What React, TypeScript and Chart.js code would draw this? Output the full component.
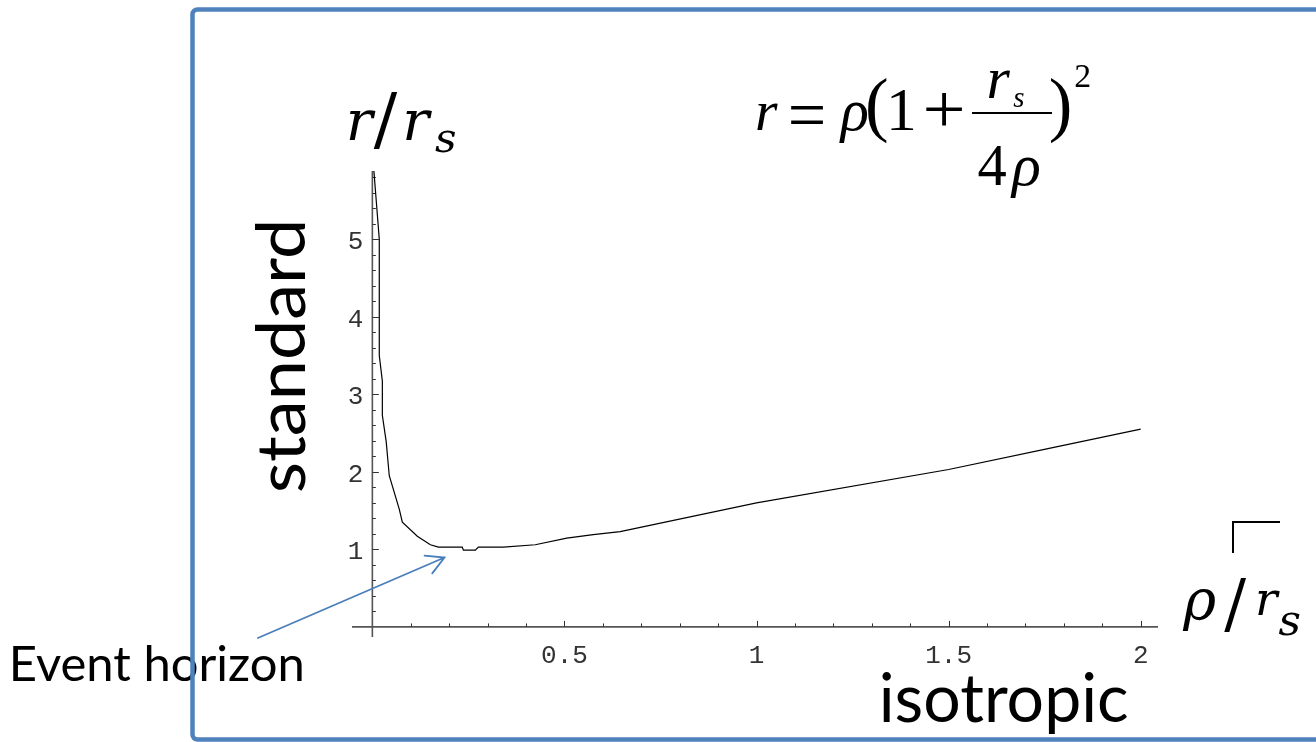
import React, { useEffect, useRef } from "react";
import { Chart, registerables } from "chart.js";

Chart.register(...registerables);

// isotropic radius rho / r_s (x) and standard radius r / r_s (y)
const rhoValues = [0.004, 0.018, 0.018, 0.026, 0.026, 0.036, 0.044, 0.07, 0.078, 0.117, 0.151, 0.172, 0.234, 0.237, 0.268, 0.276, 0.341, 0.424, 0.506, 0.575, 0.645, 1.0, 1.5, 1.74, 2.0];
const rValues = [5.88, 5.0, 3.5, 3.17, 2.73, 2.39, 1.95, 1.52, 1.35, 1.17, 1.06, 1.03, 1.03, 0.99, 0.99, 1.03, 1.03, 1.06, 1.145, 1.19, 1.23, 1.6, 2.03, 2.28, 2.55];

const xTickValues = [0.5, 1, 1.5, 2];
const xTickLabels = ["0.5", "1", "1.5", "2"];
const yTickValues = [1, 2, 3, 4, 5];
const yTickLabels = ["1", "2", "3", "4", "5"];
const xMinorStep = 0.1;
const yMinorStep = 0.2;
const xRange = [-0.053, 2.045];
const yRange = [-0.13, 5.88];

// arrow "Event horizon" in data coordinates
const arrowStart = [-0.298, -0.143];
const arrowTip = [0.1877, 0.895];

const BLUE = "#4f81bd";

function drawBox(
  ctx: CanvasRenderingContext2D,
  text: string,
  font: string,
  l: number,
  t: number,
  r: number,
  b: number,
  uniform = false,
  color = "#000"
) {
  ctx.save();
  ctx.font = font;
  ctx.textAlign = "left";
  ctx.textBaseline = "alphabetic";
  const m = ctx.measureText(text);
  const w = m.actualBoundingBoxLeft + m.actualBoundingBoxRight;
  const h = m.actualBoundingBoxAscent + m.actualBoundingBoxDescent;
  const sy = (b - t) / h;
  const sx = uniform ? sy : (r - l) / w;
  const ox = uniform ? l + ((r - l) - w * sx) / 2 : l;
  ctx.translate(ox, t);
  ctx.scale(sx, sy);
  ctx.fillStyle = color;
  ctx.fillText(text, m.actualBoundingBoxLeft, m.actualBoundingBoxAscent);
  ctx.restore();
}

const decorations = {
  id: "decorations",
  beforeDatasetsDraw(chart: any) {
    const { ctx, chartArea: a, scales } = chart;
    const xs = scales.x;
    const ys = scales.y;
    const x0 = xs.getPixelForValue(0);
    const y0 = ys.getPixelForValue(0);
    ctx.save();
    // axes
    ctx.strokeStyle = "#555";
    ctx.lineWidth = 1.6;
    ctx.beginPath();
    ctx.moveTo(a.left, y0);
    ctx.lineTo(a.right, y0);
    ctx.moveTo(x0, a.top);
    ctx.lineTo(x0, a.bottom);
    ctx.stroke();
    // inward ticks
    ctx.strokeStyle = "#333";
    ctx.lineWidth = 1;
    ctx.beginPath();
    for (let i = 1; i * xMinorStep <= xs.max + 1e-9; i++) {
      const px = Math.round(xs.getPixelForValue(i * xMinorStep)) + 0.5;
      const len = i % 5 === 0 ? 6 : 3.5;
      ctx.moveTo(px, y0);
      ctx.lineTo(px, y0 - len);
    }
    for (let i = 1; i * yMinorStep <= ys.max + 1e-9; i++) {
      const py = Math.round(ys.getPixelForValue(i * yMinorStep)) + 0.5;
      const len = i % 5 === 0 ? 6.5 : 3.5;
      ctx.moveTo(x0, py);
      ctx.lineTo(x0 + len, py);
    }
    ctx.stroke();
    // tick labels
    ctx.font = '26px "Liberation Mono", "Courier New", monospace';
    ctx.fillStyle = "#333";
    ctx.textBaseline = "alphabetic";
    ctx.textAlign = "center";
    xTickValues.forEach((v, i) => ctx.fillText(xTickLabels[i], xs.getPixelForValue(v), y0 + 36));
    ctx.textAlign = "right";
    yTickValues.forEach((v, i) => ctx.fillText(yTickLabels[i], x0 - 9, ys.getPixelForValue(v) + 10));
    ctx.restore();
  },
  afterDraw(chart: any) {
    const { ctx, scales } = chart;
    const xs = scales.x;
    const ys = scales.y;
    ctx.save();

    // axis title top-left: r / r_s
    const si = 'italic 60px "DejaVu Serif"';
    const su = '60px "DejaVu Serif"';
    drawBox(ctx, "r", si, 350, 110, 375, 140, true);
    drawBox(ctx, "/", su, 372, 92, 400, 150, true);
    drawBox(ctx, "r", si, 405, 110, 433, 140, true);
    drawBox(ctx, "s", si, 435, 130, 455, 153, true);

    // axis title bottom-right: rho / r_s
    drawBox(ctx, "ρ", si, 1185, 588, 1213, 630, true);
    drawBox(ctx, "/", su, 1223, 578, 1248, 632, true);
    drawBox(ctx, "r", si, 1258, 590, 1280, 615, true);
    drawBox(ctx, "s", si, 1280, 612, 1298, 636, true);
    ctx.strokeStyle = "#000";
    ctx.lineWidth = 2;
    ctx.beginPath();
    ctx.moveTo(1280, 522);
    ctx.lineTo(1233, 522);
    ctx.lineTo(1233, 553);
    ctx.stroke();

    // formula r = rho (1 + r_s / 4 rho)^2
    const ti = 'italic 60px "Liberation Serif", "Times New Roman", Times, serif';
    const tu = '60px "Liberation Serif", "Times New Roman", Times, serif';
    drawBox(ctx, "r", ti, 753, 103, 782, 130, true);
    drawBox(ctx, "=", tu, 790, 107, 823, 125);
    drawBox(ctx, "ρ", ti, 838, 103, 868, 143, true);
    drawBox(ctx, "(", tu, 868, 78, 887, 143, true);
    drawBox(ctx, "1", tu, 892, 90, 913, 130, true);
    drawBox(ctx, "+", tu, 925, 93, 962, 127);
    ctx.fillStyle = "#000";
    ctx.fillRect(972, 112, 80, 2);
    drawBox(ctx, "r", ti, 987, 70, 1012, 98, true);
    drawBox(ctx, "s", ti, 1012, 93, 1025, 107, true);
    drawBox(ctx, "4", tu, 978, 147, 1007, 185, true);
    drawBox(ctx, "ρ", ti, 1007, 157, 1042, 198, true);
    drawBox(ctx, ")", tu, 1052, 78, 1068, 143, true);
    drawBox(ctx, "2", tu, 1073, 65, 1092, 87, true);

    // words
    ctx.save();
    ctx.translate(255, 491);
    ctx.rotate(-Math.PI / 2);
    drawBox(ctx, "standard", '64px "Lato"', 0, 0, 268, 51);
    ctx.restore();
    drawBox(ctx, "isotropic", '60px "Lato"', 882, 672, 1128, 733);
    drawBox(ctx, "Event horizon", '46px "Lato"', 13, 645, 302, 681);

    // arrow
    const sx = xs.getPixelForValue(arrowStart[0]);
    const sy = ys.getPixelForValue(arrowStart[1]);
    const tx = xs.getPixelForValue(arrowTip[0]);
    const ty = ys.getPixelForValue(arrowTip[1]);
    const ang = Math.atan2(sy - ty, sx - tx);
    const hl = 20;
    const hw = (29 * Math.PI) / 180;
    ctx.strokeStyle = "#4a7ebb";
    ctx.lineWidth = 1.8;
    ctx.lineCap = "round";
    ctx.beginPath();
    ctx.moveTo(sx, sy);
    ctx.lineTo(tx, ty);
    ctx.moveTo(tx + hl * Math.cos(ang + hw), ty + hl * Math.sin(ang + hw));
    ctx.lineTo(tx, ty);
    ctx.lineTo(tx + hl * Math.cos(ang - hw), ty + hl * Math.sin(ang - hw));
    ctx.stroke();

    // slide frame
    ctx.strokeStyle = BLUE;
    ctx.lineWidth = 4.5;
    ctx.lineCap = "butt";
    const L = 192.5, T = 9.5, B = 739.5, R = 5;
    ctx.beginPath();
    ctx.moveTo(1330, T);
    ctx.lineTo(L + R, T);
    ctx.arcTo(L, T, L, T + R, R);
    ctx.lineTo(L, B - R);
    ctx.arcTo(L, B, L + R, B, R);
    ctx.lineTo(1330, B);
    ctx.stroke();

    ctx.restore();
  },
};

export default function App() {
  const canvasRef = useRef<HTMLCanvasElement | null>(null);

  useEffect(() => {
    const canvas = canvasRef.current;
    if (!canvas) return;
    const points = rhoValues.map((x, i) => ({ x, y: rValues[i] }));
    const chart = new Chart(canvas, {
      type: "scatter",
      data: {
        datasets: [
          {
            data: points,
            showLine: true,
            borderColor: "#000",
            borderWidth: 1.2,
            pointRadius: 0,
            tension: 0,
            fill: false,
          },
        ],
      },
      options: {
        responsive: false,
        devicePixelRatio: 1,
        animation: false,
        events: [],
        layout: { padding: { left: 352, right: 158, top: 171, bottom: 105 } },
        plugins: { legend: { display: false }, tooltip: { enabled: false }, title: { display: false } },
        scales: {
          x: { type: "linear", display: false, bounds: "data", min: xRange[0], max: xRange[1] },
          y: { type: "linear", display: false, bounds: "data", min: yRange[0], max: yRange[1] },
        },
      },
      plugins: [decorations],
    } as any);
    return () => chart.destroy();
  }, []);

  return (
    <div style={{ position: "absolute", left: 0, top: 0, width: 1316, height: 742, background: "#fff", overflow: "hidden" }}>
      <canvas ref={canvasRef} width={1316} height={742} style={{ display: "block", width: 1316, height: 742 }} />
    </div>
  );
}
